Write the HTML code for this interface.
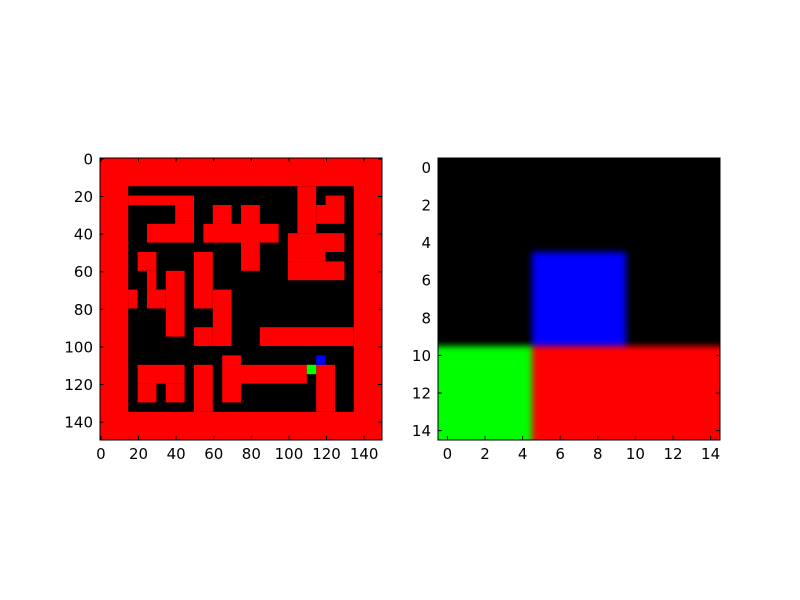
<!DOCTYPE html>
<html><head><meta charset="utf-8">
<style>
html,body{margin:0;padding:0;background:#fff;}
svg{display:block;font-family:"DejaVu Sans","Liberation Sans",sans-serif;}
</style></head>
<body>
<svg id="fig" width="800" height="600" viewBox="0 0 800 600">
<defs>
<clipPath id="clipL"><rect x="100" y="158" width="282" height="282"/></clipPath>
<clipPath id="clipR"><rect x="438" y="158" width="282" height="282"/></clipPath>
<filter id="blur" x="-10%" y="-10%" width="120%" height="120%" color-interpolation-filters="sRGB"><feGaussianBlur stdDeviation="3.2"/></filter>
</defs>
<g id="left"></g>
<g id="right"></g>
</svg>
<script>
// Maze (30x30 grid, each cell 5 data units). Red rectangles: [c0,c1,r0,r1] inclusive
const mazeRedRects = [[3,9,4,4],[8,9,5,6],[5,9,7,8],
[12,13,5,6],[15,16,5,11],[11,18,7,8],
[21,22,3,7],[24,25,4,4],[23,25,5,6],[20,25,8,9],[20,23,10,10],[20,25,11,12],
[3,3,14,15],[4,5,10,11],[5,5,12,13],[5,6,14,15],[7,8,12,18],
[10,11,10,15],[12,13,14,19],[10,11,18,19],
[17,26,18,19],
[4,8,22,23],[4,5,24,25],[7,8,24,25],[10,11,22,26],[13,14,21,25],[15,21,22,23],[23,24,22,26]];
const mazeInterior = [3,26,3,26];
const mazeGreen = [22,22];
const mazeBlue = [23,21];
const mazeTicks = [0,20,40,60,80,100,120,140];
// Small 15x15 image regions: [c0,c1,r0,r1,color]
const smallRegions = [[5,9,5,9,'#0000ff'],[0,4,10,14,'#00ff00'],[5,14,10,14,'#ff0000']];
const smallTicks = [0,2,4,6,8,10,12,14];

const NS='http://www.w3.org/2000/svg';
function mk(parent,tag,attrs){const e=document.createElementNS(NS,tag);for(const k in attrs)e.setAttribute(k,attrs[k]);parent.appendChild(e);return e;}

function axes(g,x0,y0,size,n){
  const sc=size/n;
  const X=v=>x0+(v+0.5)*sc, Y=v=>y0+(v+0.5)*sc;
  return {X,Y,sc};
}
function drawFrame(g,x0,y0,size,ticks,X,Y){
  ticks.forEach(t=>{
    const tx=X(t), ty=Y(t);
    [[tx,y0+size,tx,y0+size-4],[tx,y0,tx,y0+4],[x0,ty,x0+4,ty],[x0+size,ty,x0+size-4,ty]].forEach(l=>{
      const ln=mk(g,'line',{x1:l[0],y1:l[1],x2:l[2],y2:l[3],stroke:'#000','stroke-width':1});
      
      
    });
    const xl=mk(g,'text',{x:tx,y:y0+size+19,'text-anchor':'middle','font-size':15,fill:'#000'});
    xl.textContent=t;
    
    
    const yl=mk(g,'text',{x:x0-7,y:ty+5.5,'text-anchor':'end','font-size':15,fill:'#000'});
    yl.textContent=t;
    
    
  });
  const f=mk(g,'rect',{x:x0,y:y0,width:size,height:size,fill:'none',stroke:'#000','stroke-width':1});
  
  
}

// Left maze
(function(){
  const g=document.getElementById('left');
  const x0=100,y0=158,size=282,cellU=5;
  const {X,Y}=axes(g,x0,y0,size,150);
  const px=size/150;
  const cx=c=>x0+c*cellU*px, cy=r=>y0+r*cellU*px;
  const bg=mk(g,'rect',{x:x0,y:y0,width:size,height:size,fill:'#ff0000'});
  
  
  const [a,b,c,d]=mazeInterior;
  const bl=mk(g,'rect',{x:cx(a),y:cy(c),width:cx(b+1)-cx(a),height:cy(d+1)-cy(c),fill:'#000'});
  
  
  mazeRedRects.forEach(r=>{
    const e=mk(g,'rect',{x:cx(r[0]),y:cy(r[2]),width:cx(r[1]+1)-cx(r[0]),height:cy(r[3]+1)-cy(r[2]),fill:'#ff0000'});
    
    
  });
  const gr=mk(g,'rect',{x:cx(mazeGreen[0]),y:cy(mazeGreen[1]),width:cx(1)-cx(0),height:cy(1)-cy(0),fill:'#00ff00'});
  
  
  const bu=mk(g,'rect',{x:cx(mazeBlue[0]),y:cy(mazeBlue[1]),width:cx(1)-cx(0),height:cy(1)-cy(0),fill:'#0000ff'});
  
  
  drawFrame(g,x0,y0,size,mazeTicks,X,Y);
})();

// Right small image (blurred)
(function(){
  const g=document.getElementById('right');
  const x0=438,y0=158,size=282,n=15;
  const {X,Y,sc}=axes(g,x0,y0,size,n);
  const clipG=mk(g,'g',{'clip-path':'url(#clipR)'});
  const bg=mk(clipG,'rect',{x:x0,y:y0,width:size,height:size,fill:'#000'});
  
  
  const bg2=mk(clipG,'g',{filter:'url(#blur)'});
  mk(bg2,'rect',{x:x0-40,y:y0-40,width:size+80,height:size+80,fill:'#000'});
  smallRegions.forEach(r=>{
    let c0=x0+r[0]*sc, c1=x0+(r[1]+1)*sc, r0=y0+r[2]*sc, r1=y0+(r[3]+1)*sc;
    if(r[0]===0)c0-=30; if(r[1]===n-1)c1+=30; if(r[2]===0)r0-=30; if(r[3]===n-1)r1+=30;
    const e=mk(bg2,'rect',{x:c0,y:r0,width:c1-c0,height:r1-r0,fill:r[4]});
    
    
  });
  drawFrame(g,x0,y0,size,smallTicks,X,Y);
})();
</script>
</body></html>
